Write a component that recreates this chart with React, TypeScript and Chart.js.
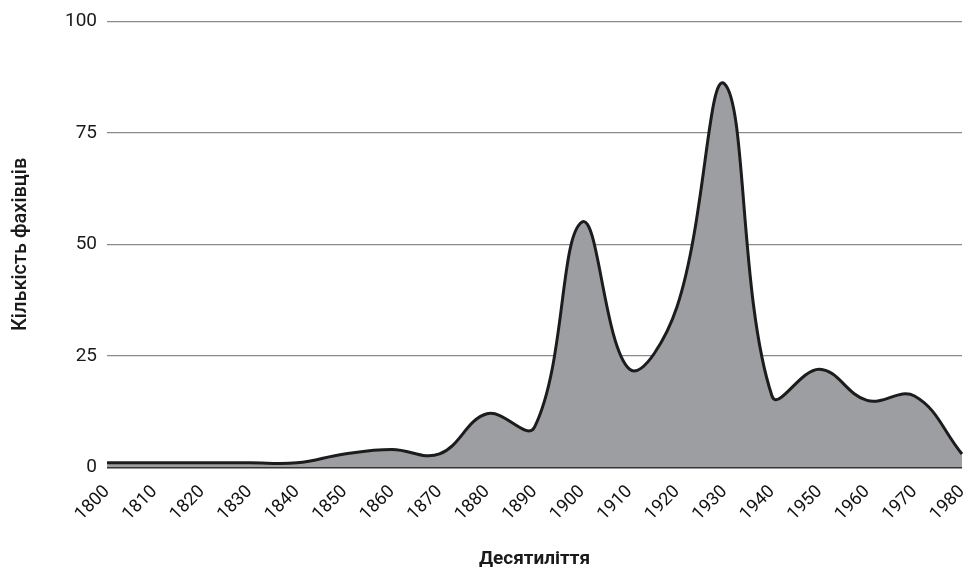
import React, { useEffect, useRef } from "react";
import { Chart, registerables } from "chart.js";

Chart.register(...registerables);

const decades = ["1800","1810","1820","1830","1840","1850","1860","1870","1880","1890","1900","1910","1920","1930","1940","1950","1960","1970","1980"];
const specialists = [1, 1, 1, 1, 1, 3, 4, 3, 12, 9, 55, 22, 36, 86, 16, 22, 15, 16, 3];
const yTicks = [0, 25, 50, 75, 100];
const yTitle = "Кількість фахівців";
const xTitle = "Десятиліття";

export default function App() {
  const ref = useRef<HTMLCanvasElement>(null);
  useEffect(() => {
    document.body.style.margin = "0";
    const chart = new Chart(ref.current!, {
      type: "line",
      data: {
        labels: decades,
        datasets: [{
          data: specialists,
          borderColor: "#1c1c1c",
          borderWidth: 3,
          backgroundColor: "#9d9ea1",
          fill: "origin",
          tension: 0.4,
          pointRadius: 0,
        }],
      },
      options: {
        animation: false,
        responsive: false,
        layout: { padding: { top: 12, right: 11, bottom: 0, left: 5 } },
        plugins: { legend: { display: false }, tooltip: { enabled: false } },
        scales: {
          x: {
            offset: false,
            afterFit: (s: any) => { s.paddingRight = 0; },
            grid: { display: false, drawTicks: false },
            border: { display: false },
            ticks: {
              minRotation: 45, maxRotation: 45, padding: 14,
              color: "#111111",
              font: { family: "Roboto", size: 18 },
              autoSkip: false,
            },
            title: { display: true, text: xTitle, color: "#1a1a1a", font: { family: "Roboto", size: 19, weight: "bold" }, padding: { top: 9, bottom: 0 } },
          },
          y: {
            min: 0, max: 100,
            afterBuildTicks: (s: any) => { s.ticks = yTicks.map((v) => ({ value: v })); },
            grid: {
              drawTicks: false,
              color: (c: any) => (c.tick && c.tick.value === 0 ? "#333333" : "#8a8a8a"),
              lineWidth: (c: any) => (c.tick && c.tick.value === 0 ? 2.5 : 1.2),
            },
            border: { display: false },
            ticks: { padding: 10, color: "#1a1a1a", font: { family: "Roboto", size: 19 } },
            title: { display: true, text: yTitle, color: "#1a1a1a", font: { family: "Roboto", size: 20, weight: "500" }, padding: { bottom: 22 } },
          },
        },
      },
    });
    return () => chart.destroy();
  }, []);
  return (
    <div style={{ position: "absolute", left: 0, top: 0, width: 973, height: 571 }}>
      <canvas ref={ref} width={973} height={571} />
    </div>
  );
}
